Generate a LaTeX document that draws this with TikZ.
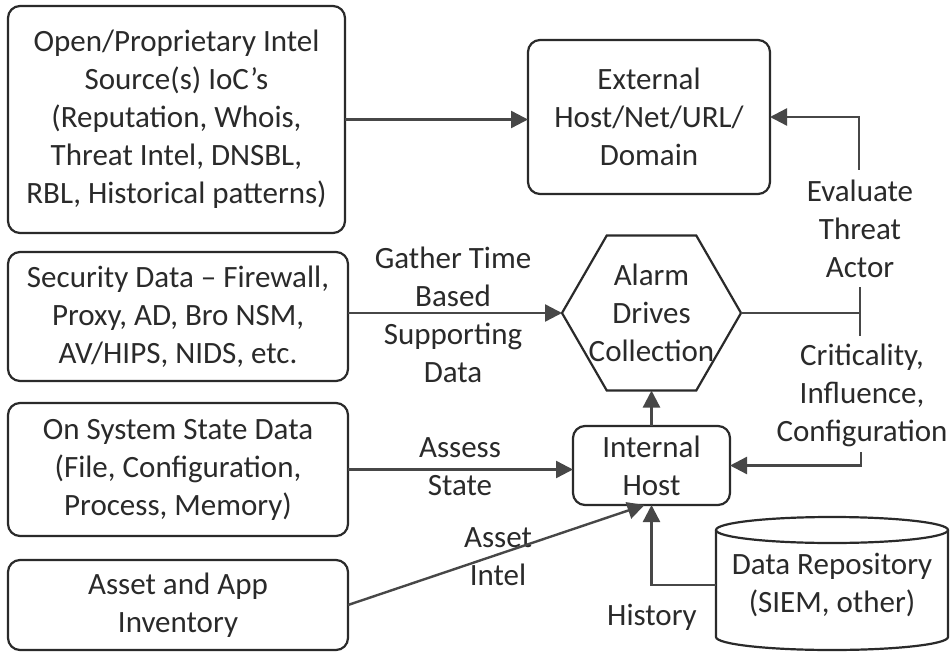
\documentclass[tikz,border=0pt]{standalone}
\usepackage{fontspec}
\setmainfont{Carlito}
\usetikzlibrary{arrows.meta,shapes.geometric,calc}
\definecolor{ink}{HTML}{2A2A2A}
\definecolor{conn}{HTML}{474747}
\begin{document}
\begin{tikzpicture}[x=1pt,y=-1pt,
  txt/.style={text=ink,align=center,font=\fontsize{31}{38}\selectfont,inner sep=0pt},
  box/.style={txt,draw=ink,line width=2.2pt,rounded corners=12pt,outer sep=0pt},
  arr/.style={draw=conn,line width=2.4pt,-{Triangle[length=17pt,width=17pt]}},
  ln/.style={draw=conn,line width=2.4pt}
]
\useasboundingbox[fill=white] (0,0) rectangle (952,655);

% boxes
\node[box,minimum width=337pt,minimum height=227pt] (b1) at (176.5,119.5)
  {Open/Proprietary Intel\\Source(s) IoC’s\\(Reputation, Whois,\\Threat Intel, DNSBL,\\RBL, Historical patterns)};
\node[box,minimum width=242pt,minimum height=154pt] (ext) at (649,117)
  {External\\Host/Net/URL/\\Domain};
\node[box,minimum width=340pt,minimum height=129pt] (sec) at (178,316.5)
  {Security Data – Firewall,\\Proxy, AD, Bro NSM,\\AV/HIPS, NIDS, etc.};
\node[box,minimum width=340pt,minimum height=133pt] (sys) at (178,469.5)
  {On System State Data\\(File, Configuration,\\Process, Memory)};
\node[box,minimum width=340pt,minimum height=90pt] (asset) at (178,605)
  {Asset and App\\Inventory};
\node[box,minimum width=157pt,minimum height=79pt] (ih) at (651.5,465.5)
  {Internal\\Host};

% hexagon
\node[draw=ink,line width=2.2pt,regular polygon,regular polygon sides=6,
  minimum size=179pt,inner sep=0pt,outer sep=0pt] (hex) at (651.5,313) {};
\node[txt] (hextxt) at (651.5,313) {Alarm\\Drives\\Collection};

% cylinder
\draw[draw=ink,line width=2.2pt] (716,530) -- (716,637)
  arc[start angle=180,end angle=360,x radius=116pt,y radius=13pt] -- (948,530);
\draw[draw=ink,line width=2.2pt] (832,530) ellipse[x radius=116pt,y radius=13pt];
\node[txt,minimum width=232pt,minimum height=110pt] (repo) at (832,585)
  {Data Repository\\(SIEM, other)};

% labels
\node[txt] (lgather) at (453,315) {Gather Time\\Based\\Supporting\\Data};
\node[txt] (lassess) at (460,467) {Assess\\State};
\node[txt] (lasset) at (498,557) {Asset\\Intel};
\node[txt] (leval) at (860,229) {Evaluate\\Threat\\Actor};
\node[txt] (lcrit) at (862,395) {Criticality,\\Influence,\\Configuration};
\node[txt] (lhist) at (652,617) {History};

% coordinates
\coordinate (evtop) at (859,170);
\coordinate (tickT) at (860,287);
\coordinate (tickB) at (860,336);
\coordinate (tickM) at (860,313);
\coordinate (crbot) at (861,452);

% connectors
\draw[arr] (b1.east) -- (b1.east -| ext.west);
\draw[arr] (evtop) |- (ext.east);
\draw[ln] (hex.east) -- (tickM);
\draw[ln] (tickT) -- (tickB);
\draw[arr] (crbot) |- (ih.east);
\draw[arr] (ih.north) -- (hex.south);
\draw[arr] (sec.east |- hex.west) -- (hex.west);
\draw[arr] (sys.east) -- (sys.east -| ih.west);
\draw[arr] (asset.east) -- ([xshift=-7pt]ih.south);
\draw[arr] (repo.west) -| (ih.south);
\end{tikzpicture}
\end{document}
